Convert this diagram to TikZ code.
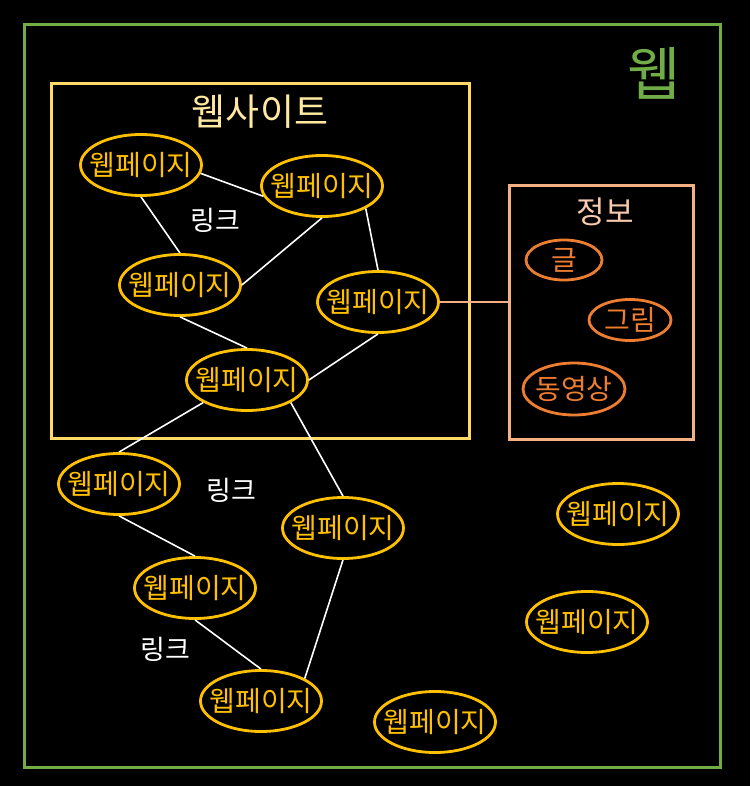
\documentclass[tikz,border=0pt]{standalone}
\usepackage{fontspec}
\setmainfont{Noto Sans CJK KR}
\usetikzlibrary{shapes.geometric}
\definecolor{webgreen}{RGB}{112,173,71}
\definecolor{siteyellow}{RGB}{255,217,102}
\definecolor{titleyellow}{RGB}{255,232,160}
\definecolor{pageyellow}{RGB}{255,192,0}
\definecolor{infopeach}{RGB}{244,177,131}
\definecolor{infotext}{RGB}{248,203,173}
\definecolor{mediaorange}{RGB}{237,125,49}
\begin{document}
\begin{tikzpicture}[x=1pt, y=-1pt,
      page/.style = {shape=ellipse, draw=pageyellow, line width=2.8pt,
        text=pageyellow, inner xsep=-16pt, inner ysep=0pt, minimum width=121pt,
        minimum height=61pt, font=\fontsize{28}{28}\selectfont},
      media/.style = {shape=ellipse, draw=mediaorange, line width=2.8pt,
        text=mediaorange, inner xsep=-12pt, inner ysep=0pt,
        font=\fontsize{28}{28}\selectfont},
      box/.style = {shape=rectangle, line width=3pt, inner sep=0pt},
      link/.style = {draw=white, line width=1.6pt},
      linklabel/.style = {text=white, font=\fontsize{27}{27}\selectfont}]
  \fill[black] (0,0) rectangle (750,786);
  \draw[webgreen, line width=3pt] (24,25) rectangle (720,767);
  \node[text=webgreen, font=\fontsize{58}{58}\selectfont] (webtitle) at (654,73) {웹};
  % website
  \node[box, draw=siteyellow, minimum width=418pt, minimum height=354pt] (site) at (260,261) {};
  \node[text=titleyellow, font=\fontsize{37}{37}\selectfont] (sitetitle) at (260,112) {웹사이트};
  % information
  \node[box, draw=infopeach, minimum width=184pt, minimum height=253pt] (info) at (601,312.5) {};
  \node[text=infotext, font=\fontsize{31}{31}\selectfont] (infotitle) at (605,212) {정보};
  \node[media, minimum width=76pt, minimum height=40pt] (text) at (564,260) {글};
  \node[media, minimum width=82pt, minimum height=41pt] (image) at (630,320) {그림};
  \node[media, minimum width=102pt, minimum height=52pt] (video) at (574,389) {동영상};
  % web pages
  \node[page] (w1) at (141,165) {웹페이지};
  \node[page] (w2) at (322,186) {웹페이지};
  \node[page] (w3) at (180,285) {웹페이지};
  \node[page] (w4) at (378,302) {웹페이지};
  \node[page] (w5) at (247,380) {웹페이지};
  \node[page] (w6) at (119,484) {웹페이지};
  \node[page] (w7) at (343,528) {웹페이지};
  \node[page] (w8) at (195,588) {웹페이지};
  \node[page] (w9) at (261,701) {웹페이지};
  \node[page] (w10) at (435,722) {웹페이지};
  \node[page] (w11) at (618,514) {웹페이지};
  \node[page] (w12) at (587,622) {웹페이지};
  % links
  \draw[link] (w1.-8) -- (w2.190);
  \draw[link] (w1.south) -- (w3.north);
  \draw[link] (w2.south) -- (w3.east);
  \draw[link] (w2.south east) -- (w4.north);
  \draw[link] (w3.south) -- (w5.north);
  \draw[link] (w4.south) -- (w5.east);
  \draw[link] (w5.south west) -- (w6.north);
  \draw[link] (w5.south east) -- (w7.north);
  \draw[link] (w6.south) -- (w8.north);
  \draw[link] (w8.south) -- (w9.north);
  \draw[link] (w7.south) -- (w9.north east);
  \draw[infopeach, line width=1.6pt] (w4.east) -- (w4.east -| info.west);
  \node[linklabel] (link1) at (215,220) {링크};
  \node[linklabel] (link2) at (231,490) {링크};
  \node[linklabel] (link3) at (165,649) {링크};
\end{tikzpicture}
\end{document}
